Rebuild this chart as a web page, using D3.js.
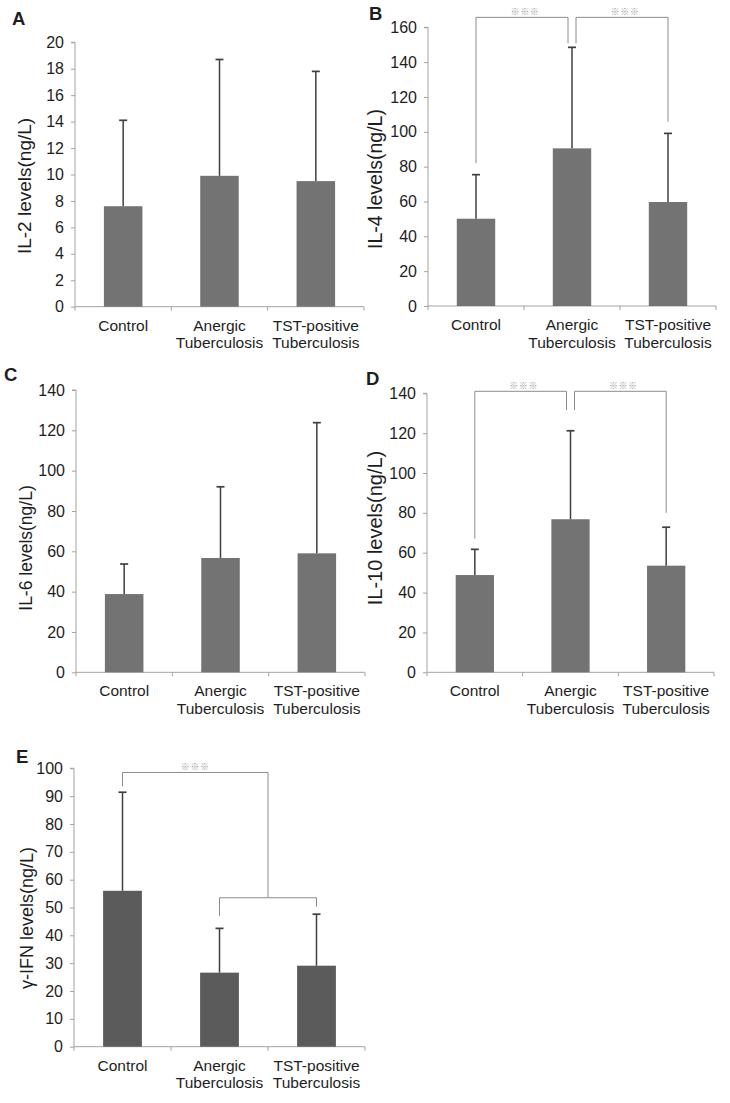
<!DOCTYPE html>
<html>
<head>
<meta charset="utf-8">
<script src="https://cdn.jsdelivr.net/npm/d3@7"></script>
<style>
  html, body { margin: 0; padding: 0; background: #fff; }
  svg { display: block; }
  text { font-family: "Liberation Sans", Arial, sans-serif; fill: #1e1e1e; }
</style>
</head>
<body>
<svg id="chart" width="730" height="1103"></svg>
<script>
// ---------------- data ----------------
const categories = [["Control"], ["Anergic", "Tuberculosis"], ["TST-positive", "Tuberculosis"]];
const panelLetters = ["A", "B", "C", "D", "E"];
const yTitles = ["IL-2 levels(ng/L)", "IL-4 levels(ng/L)", "IL-6 levels(ng/L)", "IL-10 levels(ng/L)", "\u03b3-IFN levels(ng/L)"];
const yMax = [20, 160, 140, 140, 100];
const yStep = [2, 20, 20, 20, 10];

const il2Mean = [7.6, 9.9, 9.5];
const il2SD = [6.5, 8.8, 8.3];
const il4Mean = [50.1, 90.5, 59.7];
const il4SD = [25.3, 58.0, 39.4];
const il6Mean = [38.8, 56.7, 59.0];
const il6SD = [14.9, 35.3, 64.8];
const il10Mean = [48.8, 76.8, 53.5];
const il10SD = [12.9, 44.4, 19.3];
const ifnMean = [56.0, 26.6, 29.1];
const ifnSD = [35.4, 15.9, 18.5];

const means = [il2Mean, il4Mean, il6Mean, il10Mean, ifnMean];
const sds = [il2SD, il4SD, il6SD, il10SD, ifnSD];

// significance brackets: [fromCategory, toCategory, leftLegBottom, rightLegBottom, top]
const sigB = [[0, 1, 82, 150.8, 165.7], [1, 2, 150.8, 105.8, 165.7]];
const sigD = [[0, 1, 67, 131.6, 141], [1, 2, 131.6, 80, 141]];
// E: lower bracket joins Anergic & TST, upper bracket joins Control to that group
const sigELower = [1, 2, 46.9, 50.3, 53.5];
const sigEUpper = [0, 98.5, 93.5];
const sigLabel = "\u203b\u203b\u203b";

// ---------------- layout (styles / positions) ----------------
const layout = [
  { left: 75,  right: 364, top: 42.3,  bottom: 306.7, titleX: 31,  titleY: 186, titleSize: 19,   letterX: 12,  letterY: 25,  color: "#737373" },
  { left: 428, right: 716, top: 27.3,  bottom: 306,   titleX: 382, titleY: 179, titleSize: 19.5, letterX: 369, letterY: 20,  color: "#737373" },
  { left: 76,  right: 365, top: 390,   bottom: 672.3, titleX: 32,  titleY: 548, titleSize: 17.5, letterX: 4,   letterY: 381, color: "#737373" },
  { left: 427, right: 714, top: 393.3, bottom: 672.3, titleX: 382, titleY: 528, titleSize: 20,   letterX: 366, letterY: 385, color: "#737373" },
  { left: 74,  right: 365, top: 768.3, bottom: 1046.7, titleX: 33, titleY: 918, titleSize: 18,   letterX: 16,  letterY: 763, color: "#5b5b5b" }
];

const svg = d3.select("#chart");
const axisColor = "#a3a3a3";
const errColor = "#3f3f3f";
const brColor = "#8c8c8c";

const panels = [];

layout.forEach((L, p) => {
  const g = svg.append("g");
  const x = d3.scaleBand().domain(d3.range(categories.length)).range([L.left, L.right]).paddingInner(0).paddingOuter(0);
  const y = d3.scaleLinear().domain([0, yMax[p]]).range([L.bottom, L.top]);
  panels.push({ x, y, g });

  // y axis
  const ticks = d3.range(0, yMax[p] + yStep[p] / 2, yStep[p]);
  const yAxis = d3.axisLeft(y).tickValues(ticks).tickSize(4).tickPadding(7).tickFormat(d3.format("d"));
  const ya = g.append("g").attr("transform", `translate(${L.left},0)`).call(yAxis);
  ya.select(".domain").attr("stroke", axisColor).attr("d", `M-4,${L.top}H0V${L.bottom}`);
  ya.selectAll(".tick line").attr("stroke", axisColor);
  ya.selectAll(".tick text").attr("font-size", 16).attr("font-family", "Liberation Sans, Arial, sans-serif").attr("fill", "#1e1e1e");

  // x axis
  const xa = g.append("g").attr("transform", `translate(0,${L.bottom})`);
  xa.append("line").attr("x1", L.left).attr("x2", L.right).attr("stroke", axisColor);
  const bounds = d3.range(categories.length + 1).map(i => i < categories.length ? x(i) : x(i - 1) + x.bandwidth());
  xa.selectAll("line.t").data(bounds).join("line").attr("class", "t")
    .attr("x1", d => d).attr("x2", d => d).attr("y1", 0).attr("y2", 4).attr("stroke", axisColor);
  const lab = xa.selectAll("text.cat").data(categories).join("text").attr("class", "cat")
    .attr("text-anchor", "middle").attr("font-size", 15.5)
    .attr("transform", (d, i) => `translate(${x(i) + x.bandwidth() / 2},0)`);
  lab.selectAll("tspan").data(d => d).join("tspan")
    .attr("x", 0).attr("y", (d, j) => 24 + j * 17.5).text(d => d);

  // bars
  const bw = x.bandwidth() * 0.4;
  const cx = i => x(i) + x.bandwidth() / 2;
  g.selectAll("rect.bar").data(means[p]).join("rect").attr("class", "bar")
    .attr("x", (d, i) => cx(i) - bw / 2).attr("width", bw)
    .attr("y", d => y(d)).attr("height", d => y(0) - y(d))
    .attr("fill", L.color);

  // error bars (upper only)
  const eb = g.selectAll("g.err").data(means[p]).join("g").attr("class", "err");
  eb.append("line").attr("x1", (d, i) => cx(i)).attr("x2", (d, i) => cx(i))
    .attr("y1", d => y(d)).attr("y2", (d, i) => y(d + sds[p][i]))
    .attr("stroke", errColor).attr("stroke-width", 1.5);
  eb.append("line").attr("x1", (d, i) => cx(i) - 4).attr("x2", (d, i) => cx(i) + 4)
    .attr("y1", (d, i) => y(d + sds[p][i])).attr("y2", (d, i) => y(d + sds[p][i]))
    .attr("stroke", errColor).attr("stroke-width", 1.7);

  // y title
  g.append("text").attr("text-anchor", "middle").attr("font-size", L.titleSize)
    .attr("transform", `translate(${L.titleX},${L.titleY}) rotate(-90)`)
    .text(yTitles[p]);

  // panel letter
  g.append("text").attr("x", L.letterX).attr("y", L.letterY)
    .attr("font-size", 18.5).attr("font-weight", "bold").text(panelLetters[p]);
});

function starText(g, xc, ytop) {
  g.append("text").attr("x", xc).attr("y", ytop - 2.5).attr("text-anchor", "middle")
    .attr("font-size", 9).attr("letter-spacing", 0.6)
    .style("font-family", "'Noto Sans CJK SC', 'DejaVu Sans', sans-serif")
    .style("fill", "#999999").text(sigLabel);
}

function pairBrackets(P, list) {
  const { x, y, g } = P;
  const cx = i => x(i) + x.bandwidth() / 2;
  list.forEach(([a, b, lb, rb, top]) => {
    const xa = cx(a) + (a === 1 ? 4 : 0);
    const xb = cx(b) - (b === 1 ? 4 : 0);
    g.append("path")
      .attr("d", `M${xa},${y(lb)}V${y(top)}H${xb}V${y(rb)}`)
      .attr("fill", "none").attr("stroke", brColor).attr("stroke-width", 1);
    starText(g, (xa + xb) / 2 + 3, y(top));
  });
}
pairBrackets(panels[1], sigB);
pairBrackets(panels[3], sigD);

// panel E brackets
(function () {
  const { x, y, g } = panels[4];
  const cx = i => x(i) + x.bandwidth() / 2;
  const [a, b, lb, rb, top] = sigELower;
  g.append("path")
    .attr("d", `M${cx(a)},${y(lb)}V${y(top)}H${cx(b)}V${y(rb)}`)
    .attr("fill", "none").attr("stroke", brColor).attr("stroke-width", 1);
  const mid = (cx(a) + cx(b)) / 2;
  const [c, utop, ulb] = sigEUpper;
  g.append("path")
    .attr("d", `M${cx(c)},${y(ulb)}V${y(utop)}H${mid}V${y(top)}`)
    .attr("fill", "none").attr("stroke", brColor).attr("stroke-width", 1);
  starText(g, (cx(c) + mid) / 2, y(utop));
})();
</script>
</body>
</html>
